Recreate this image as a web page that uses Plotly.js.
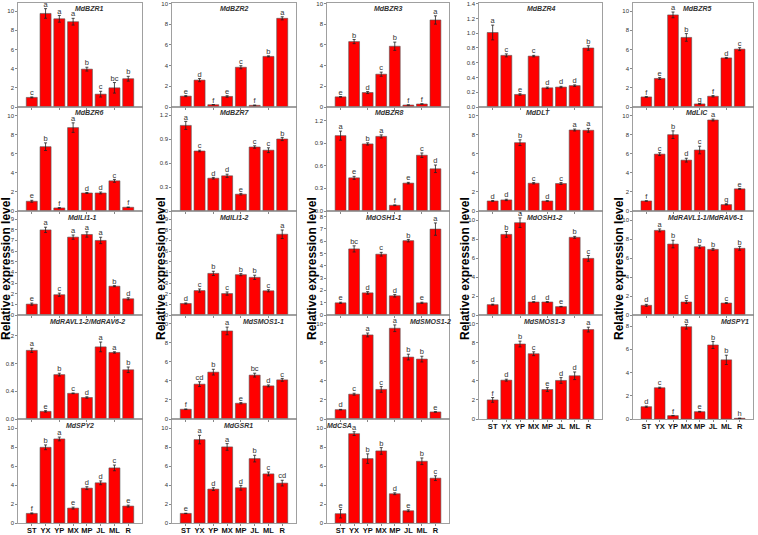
<!DOCTYPE html>
<html>
<head>
<meta charset="utf-8">
<script src="https://cdn.plot.ly/plotly-3.0.1.min.js"></script>
<style>
  body { margin: 0; background: #fff; }
  #chart { width: 758px; height: 535px; }
</style>
</head>
<body>
<div id="chart"></div>
<script>
// Sampling stages on the x axis
let stages = ["ST", "YX", "YP", "MX", "MP", "JL", "ML", "R"];

// Gene names, one panel each (read left to right, top to bottom)
let genes = [
  "MdBZR1", "MdBZR2", "MdBZR3", "MdBZR4", "MdBZR5",
  "MdBZR6", "MdBZR7", "MdBZR8", "MdDLT", "MdLIC",
  "MdILI1-1", "MdILI1-2", "MdOSH1-1", "MdOSH1-2", "MdRAVL1-1/MdRAV6-1",
  "MdRAVL1-2/MdRAV6-2", "MdSMOS1-1", "MdSMOS1-2", "MdSMOS1-3", "MdSPY1",
  "MdSPY2", "MdGSR1", "MdCSA"
];

// Mean relative expression for each stage
let means = [
  [1.0, 9.76, 9.2, 8.9, 3.95, 1.34, 2.0, 2.95],
  [1.05, 2.6, 0.22, 1.02, 3.84, 0.16, 4.89, 8.57],
  [0.98, 6.32, 1.4, 3.17, 5.87, 0.19, 0.29, 8.41],
  [1.01, 0.70, 0.17, 0.69, 0.26, 0.27, 0.29, 0.80],
  [1.05, 2.98, 9.61, 7.26, 0.32, 1.12, 5.12, 6.04],
  [1.02, 6.74, 0.32, 8.74, 1.89, 1.89, 3.16, 0.39],
  [1.07, 0.75, 0.41, 0.44, 0.21, 0.80, 0.76, 0.90],
  [1.0, 0.44, 0.89, 0.99, 0.076, 0.37, 0.74, 0.56],
  [1.05, 1.16, 7.16, 2.91, 1.05, 2.88, 8.49, 8.46],
  [1.05, 5.96, 8.0, 5.33, 6.39, 9.54, 0.67, 2.32],
  [1.02, 7.98, 1.9, 7.3, 7.55, 6.99, 2.7, 1.52],
  [1.08, 2.29, 3.9, 2.01, 3.78, 3.53, 2.27, 7.57],
  [0.99, 5.37, 1.8, 4.94, 1.56, 6.04, 0.99, 6.98],
  [1.09, 8.49, 9.72, 1.37, 1.37, 0.88, 8.18, 5.96],
  [1.02, 8.91, 7.47, 1.37, 7.19, 6.91, 1.26, 7.02],
  [0.99, 0.11, 0.64, 0.37, 0.31, 1.04, 0.96, 0.71],
  [1.02, 3.65, 4.91, 9.23, 1.65, 4.6, 3.47, 4.1],
  [0.98, 2.6, 8.81, 3.1, 9.51, 6.49, 6.28, 0.74],
  [2.0, 4.07, 7.86, 6.84, 3.09, 4.04, 4.53, 9.37],
  [1.06, 2.69, 0.29, 7.94, 0.63, 6.37, 5.09, 0.06],
  [1.01, 7.97, 8.85, 1.57, 3.67, 4.23, 5.8, 1.78],
  [1.01, 8.78, 3.57, 8.01, 3.71, 6.78, 5.17, 4.2],
  [0.98, 9.41, 6.78, 7.59, 3.08, 1.29, 6.5, 4.72]
];

// Standard errors
let errs = [
  [0.05, 0.5, 0.35, 0.35, 0.2, 0.3, 0.55, 0.25],
  [0.05, 0.15, 0.02, 0.07, 0.15, 0.03, 0.05, 0.15],
  [0.03, 0.2, 0.1, 0.2, 0.4, 0.02, 0.02, 0.4],
  [0.1, 0.02, 0.01, 0.01, 0.01, 0.01, 0.01, 0.03],
  [0.03, 0.1, 0.3, 0.4, 0.03, 0.07, 0.05, 0.15],
  [0.1, 0.4, 0.03, 0.5, 0.05, 0.1, 0.15, 0.02],
  [0.05, 0.01, 0.01, 0.02, 0.01, 0.015, 0.03, 0.02],
  [0.06, 0.02, 0.015, 0.02, 0.005, 0.01, 0.03, 0.05],
  [0.05, 0.07, 0.3, 0.07, 0.03, 0.1, 0.1, 0.2],
  [0.02, 0.15, 0.4, 0.2, 0.4, 0.1, 0.03, 0.05],
  [0.1, 0.25, 0.15, 0.2, 0.25, 0.3, 0.05, 0.1],
  [0.05, 0.15, 0.2, 0.15, 0.1, 0.2, 0.1, 0.4],
  [0.05, 0.25, 0.1, 0.15, 0.1, 0.1, 0.05, 0.5],
  [0.05, 0.3, 0.5, 0.03, 0.05, 0.03, 0.1, 0.3],
  [0.1, 0.15, 0.4, 0.15, 0.15, 0.1, 0.05, 0.2],
  [0.03, 0.01, 0.02, 0.005, 0.01, 0.07, 0.01, 0.04],
  [0.03, 0.25, 0.3, 0.4, 0.07, 0.2, 0.1, 0.15],
  [0.03, 0.1, 0.2, 0.3, 0.35, 0.3, 0.3, 0.03],
  [0.25, 0.1, 0.3, 0.2, 0.2, 0.3, 0.4, 0.25],
  [0.05, 0.05, 0.02, 0.2, 0.03, 0.3, 0.4, 0.01],
  [0.05, 0.25, 0.2, 0.1, 0.15, 0.2, 0.3, 0.1],
  [0.02, 0.45, 0.15, 0.35, 0.25, 0.35, 0.2, 0.3],
  [0.45, 0.2, 0.5, 0.35, 0.1, 0.1, 0.35, 0.25]
];

// Significance letters
let letters = [
  ["c", "a", "a", "a", "b", "c", "bc", "b"],
  ["e", "d", "f", "e", "c", "f", "b", "a"],
  ["e", "b", "d", "c", "b", "f", "f", "a"],
  ["a", "c", "e", "c", "d", "d", "d", "b"],
  ["f", "e", "a", "b", "g", "f", "d", "c"],
  ["e", "b", "f", "a", "d", "d", "c", "f"],
  ["a", "c", "d", "d", "e", "c", "c", "b"],
  ["a", "e", "b", "a", "f", "e", "c", "d"],
  ["d", "d", "b", "c", "d", "c", "a", "a"],
  ["f", "c", "b", "d", "c", "a", "g", "e"],
  ["e", "a", "c", "a", "a", "a", "b", "d"],
  ["d", "c", "b", "c", "b", "b", "c", "a"],
  ["e", "bc", "d", "c", "d", "b", "e", "a"],
  ["d", "b", "a", "d", "d", "e", "b", "c"],
  ["d", "a", "b", "c", "b", "b", "c", "b"],
  ["a", "e", "b", "c", "d", "a", "a", "b"],
  ["f", "cd", "b", "a", "e", "bc", "d", "c"],
  ["d", "c", "a", "c", "a", "b", "b", "e"],
  ["f", "d", "b", "c", "e", "d", "d", "a"],
  ["d", "c", "f", "a", "e", "b", "b", "h"],
  ["f", "b", "a", "e", "d", "d", "c", "e"],
  ["e", "a", "d", "a", "d", "b", "c", "cd"],
  ["e", "a", "b", "b", "d", "e", "b", "c"]
];

// Axis top and tick step of each panel
let yTop = [10.85, 10.05, 10.05, 1.41, 10.85,
            10.9, 1.3, 1.38, 10.9, 10.9,
            9.75, 9.75, 8.45, 10.95, 10.95,
            1.5, 10.9, 10.9, 10.9, 8.95,
            10.95, 10.95, 10.95];
let yStep = [2, 2, 2, 0.2, 2,
             2, 0.3, 0.3, 2, 2,
             1, 1, 1, 2, 2,
             0.4, 2, 2, 2, 2,
             2, 2, 2];

// Panel frames, in pixels
const W = 758, H = 535;
let colLeft = [18, 172, 327, 479, 633];
let colRight = [142, 296, 449, 602, 753];
let rowTop = [3, 107, 211, 315, 419];
let rowBottom = [107, 211, 315, 419, 523];
// where the title sits across each panel (0 = left, 1 = right)
let titlePos = [0.57, 0.5, 0.5, 0.5, 0.53,
                0.57, 0.5, 0.51, 0.48, 0.53,
                0.52, 0.5, 0.47, 0.54, 0.6,
                0.56, 0.74, 0.85, 0.53, 0.85,
                0.5, 0.54, 0.1];
let yLabelX = [6, 161, 312, 465, 619];

let data = [];
let layout = {
  width: W,
  height: H,
  margin: { l: 0, r: 0, t: 0, b: 0 },
  showlegend: false,
  paper_bgcolor: "white",
  plot_bgcolor: "white",
  bargap: 0.2,
  font: { family: "Arial, Liberation Sans, sans-serif", color: "#333" },
  annotations: []
};

for (let i = 0; i < genes.length; i++) {
  let r = Math.floor(i / 5);
  let c = i % 5;
  let n = i + 1;
  let xName = n === 1 ? "x" : "x" + n;
  let yName = n === 1 ? "y" : "y" + n;

  // bars with error bars
  data.push({
    type: "bar",
    x: stages,
    y: means[i],
    xaxis: xName,
    yaxis: yName,
    marker: { color: "#ff0000", line: { color: "#555", width: 0.6 } },
    error_y: { type: "data", array: errs[i], color: "#222", thickness: 0.8, width: 1.5 },
    hoverinfo: "x+y"
  });

  // letters on top of the error bars
  let tops = [];
  for (let j = 0; j < means[i].length; j++) {
    tops.push(means[i][j] + errs[i][j]);
  }
  data.push({
    type: "scatter",
    mode: "text",
    x: stages,
    y: tops,
    text: letters[i],
    textposition: "top center",
    textfont: { size: 7.5, color: "#333" },
    cliponaxis: false,
    xaxis: xName,
    yaxis: yName,
    hoverinfo: "skip"
  });

  let showLabels = r === 4 || (r === 3 && c >= 3);

  layout["xaxis" + (n === 1 ? "" : n)] = {
    domain: [colLeft[c] / W, colRight[c] / W],
    anchor: yName,
    type: "category",
    range: [-1, 8],
    showline: true,
    mirror: true,
    linecolor: "#888",
    linewidth: 0.8,
    ticks: "outside",
    ticklen: 2,
    tickcolor: "#888",
    showgrid: false,
    zeroline: false,
    showticklabels: showLabels,
    tickangle: 0,
    ticklabelstandoff: -2,
    tickfont: { size: 7.5, family: "Liberation Sans Narrow, Arial Narrow, Arial", weight: "bold", color: "#111" },
    fixedrange: true
  };

  layout["yaxis" + (n === 1 ? "" : n)] = {
    domain: [1 - rowBottom[r] / H, 1 - rowTop[r] / H],
    anchor: xName,
    range: [0, yTop[i]],
    tick0: 0,
    dtick: yStep[i],
    tickformat: yStep[i] < 1 ? ".1f" : "",
    showline: true,
    mirror: true,
    linecolor: "#888",
    linewidth: 0.8,
    ticks: "outside",
    ticklen: 2,
    tickcolor: "#888",
    showgrid: false,
    zeroline: false,
    tickfont: { size: 6, color: "#333" },
    fixedrange: true
  };

  // gene name inside the panel
  layout.annotations.push({
    xref: "paper",
    yref: "paper",
    x: (colLeft[c] + titlePos[i] * (colRight[c] - colLeft[c])) / W,
    y: 1 - (rowTop[r] + 6) / H,
    xanchor: "center",
    yanchor: "middle",
    showarrow: false,
    text: "<b><i>" + genes[i] + "</i></b>",
    font: { size: 7, color: "#333" }
  });
}

// shared y titles, one per column
for (let c = 0; c < 5; c++) {
  layout.annotations.push({
    xref: "paper",
    yref: "paper",
    x: yLabelX[c] / W,
    y: 1 - 269 / H,
    xanchor: "center",
    yanchor: "middle",
    textangle: -90,
    showarrow: false,
    text: "<b>Relative expression level</b>",
    font: { size: 12, family: "Liberation Sans Narrow, Arial Narrow, Arial", color: "#000" }
  });
}

Plotly.newPlot("chart", data, layout, { displayModeBar: false, staticPlot: true });
</script>
</body>
</html>
